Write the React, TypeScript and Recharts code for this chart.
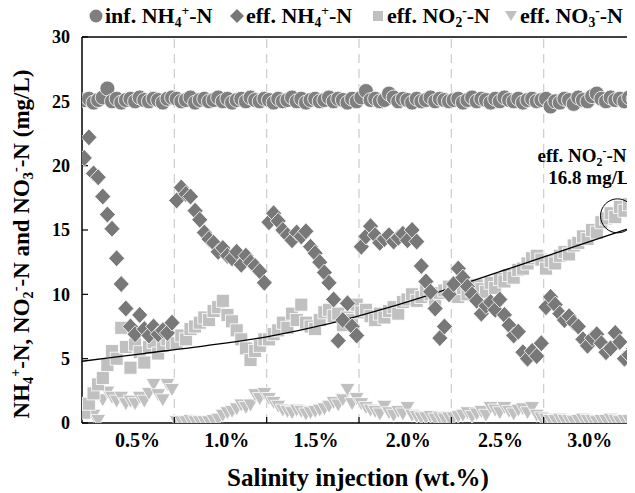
import React from 'react';
import { ScatterChart, Scatter, XAxis, YAxis, ReferenceLine, ReferenceDot } from 'recharts';

const FONT = '"Liberation Serif", "Times New Roman", serif';

// Salinity phases (sample-day units, 30 days per phase)
const phaseBoundaries = [30, 60, 90, 120, 150];
const xTickLabels = ['0.5%', '1.0%', '1.5%', '2.0%', '2.5%', '3.0%'];
const xTickPositions = [18, 47, 76, 106, 136, 165];
const yTicks = [0, 5, 10, 15, 20, 25, 30];
const sampleInterval = 1.5;

const infNH4 = [
  25.1, 25.2, 24.9, 25.1, 25.3, 26.0, 25.0, 25.2, 24.9, 25.1, 25.2, 25.0, 25.3, 25.1, 25.0, 25.2, 25.1, 24.9, 25.2, 25.3,
  25.2, 25.0, 25.1, 25.3, 24.9, 25.1, 25.2, 25.0, 25.1, 25.3, 25.0, 25.2, 24.9, 25.1, 25.2, 25.0, 25.3, 25.1, 25.0, 25.2,
  25.1, 24.9, 25.2, 25.0, 25.1, 25.3, 25.0, 25.2, 24.9, 25.1, 25.2, 25.0, 25.1, 25.3, 25.0, 25.2, 25.1, 24.9, 25.2, 25.0,
  25.3, 25.8, 25.1, 25.2, 25.0, 25.1, 25.6, 25.3, 25.0, 25.2, 25.1, 24.9, 25.2, 25.0, 25.1, 25.3, 25.0, 25.2, 25.1, 25.0,
  25.1, 25.2, 24.9, 25.1, 25.3, 25.0, 25.2, 25.1, 24.9, 25.2, 25.0, 25.3, 25.1, 25.0, 25.2, 24.9, 25.1, 25.2, 25.0, 25.1,
  25.2, 24.6, 25.0, 24.9, 25.2, 25.1, 24.8, 25.3, 25.1, 25.0, 25.4, 25.6, 25.2, 25.0, 25.3, 25.1, 25.2, 25.0, 25.3, 25.2,
];

const effNH4 = [
  20.6, 22.2, 19.4, 19.1, 17.6, 16.2, 15.1, 12.8, 10.8, 8.9, 7.5, 6.9, 8.4, 7.3, 6.8, 7.5, 6.9, 7.2, 7.0, 7.8,
  17.3, 18.3, 17.8, 17.6, 16.5, 15.8, 14.8, 14.3, 14.0, 13.3, 13.6, 13.0, 12.8, 13.3, 12.3, 13.0, 12.5, 12.2, 11.8, 10.9,
  15.6, 16.3, 15.7, 15.0, 14.6, 14.2, 14.8, 14.5, 14.9, 13.7, 13.2, 12.5, 11.7, 10.9, 9.6, 6.4, 8.0, 9.3, 7.5, 6.8,
  13.7, 14.5, 15.3, 14.6, 14.0, 14.3, 14.6, 14.1, 14.4, 14.7, 14.2, 15.0, 14.1, 12.2, 11.0, 10.2, 8.9, 6.6, 7.5, 10.0,
  10.8, 12.0, 11.3, 10.6, 10.0, 9.5, 8.5, 9.1, 9.4, 8.8, 9.6, 8.4, 7.6, 6.8, 7.1, 5.5, 5.0, 5.6, 5.2, 6.2,
  9.0, 9.8, 9.2, 8.5, 8.0, 8.3, 7.8, 7.5, 6.5, 6.0, 6.6, 6.9, 6.2, 5.5, 5.8, 7.0, 6.3, 5.0, 5.3, 5.8,
];

const effNO2 = [
  0.8, 1.5, 2.3, 3.0, 3.5, 4.5, 5.6, 5.0, 7.4, 5.9, 4.3, 6.1, 5.5, 4.7, 5.9, 6.3, 5.4, 6.0, 6.5, 6.2,
  6.2, 6.8, 6.5, 7.3, 7.5, 7.8, 8.2, 8.0, 8.7, 9.0, 9.5, 8.4, 7.9, 7.2, 6.5, 5.8, 4.9, 5.6, 6.0, 6.5,
  6.5, 6.9, 7.2, 7.8, 7.4, 8.5, 8.0, 9.2, 7.8, 7.5, 7.3, 8.0, 8.6, 8.8, 8.3, 8.5, 7.6, 8.2, 8.0, 9.2,
  8.6, 8.8, 8.3, 8.0, 8.5, 8.2, 8.7, 9.0, 8.5, 9.4, 9.6, 10.0, 9.5, 9.8, 10.3, 10.0, 9.6, 10.1, 10.3, 10.6,
  10.2, 9.8, 10.5, 10.0, 10.3, 10.7, 10.4, 10.2, 10.9, 10.5, 11.2, 11.0, 11.5, 11.3, 11.9, 12.0, 12.4, 12.8, 13.0, 12.7,
  12.0, 12.6, 12.4, 13.0, 13.3, 13.1, 13.8, 14.0, 14.5, 14.3, 15.0, 14.8, 15.6, 15.9, 16.3, 16.0, 16.8, 16.5, 17.0, 16.7,
];

const effNO3 = [
  1.0, 1.3, 0.6, 0.2, 1.8, 2.4, 2.0, 1.7, 2.0, 1.5, 1.7, 1.5, 2.0, 1.7, 2.3, 3.0, 2.2, 1.8, 3.0, 2.6,
  0.1, 0.1, 0.1, 0.2, 0.1, 0.1, 0.1, 0.1, 0.2, 0.3, 0.6, 0.8, 0.9, 1.1, 1.4, 1.2, 1.4, 2.2, 1.9, 2.3,
  1.9, 1.6, 1.3, 1.0, 0.9, 0.8, 1.0, 0.9, 0.7, 0.8, 0.9, 1.0, 1.1, 1.3, 1.6, 1.4, 1.8, 2.6, 1.5, 1.9,
  1.5, 1.2, 1.0, 0.9, 0.7, 1.3, 0.8, 0.6, 0.9, 0.7, 1.2, 0.6, 0.5, 0.4, 0.4, 0.5, 0.3, 0.4, 0.3, 0.4,
  0.4, 0.5, 0.6, 0.8, 0.5, 0.7, 0.9, 0.6, 1.2, 1.0, 0.8, 1.2, 0.9, 0.7, 1.0, 1.1, 0.8, 1.2, 0.6, 0.4,
  0.3, 0.2, 0.2, 0.3, 0.2, 0.2, 0.1, 0.2, 0.3, 0.2, 0.2, 0.1, 0.2, 0.2, 0.3, 0.2, 0.1, 0.2, 0.2, 0.3,
];

const trendDays = [0, 20, 40, 60, 80, 100, 120, 140, 160, 180];
const trendValues = [4.8, 5.4, 6.0, 6.7, 7.7, 9.0, 10.5, 12.1, 13.7, 15.3];

const highlightDay = 174;
const highlightValue = 16.1;

const toPoints = (values: number[]) =>
  values.map((v, i) => ({ x: (i + 0.5) * sampleInterval, y: v }));

const infData = toPoints(infNH4);
const effNH4Data = toPoints(effNH4);
const effNO2Data = toPoints(effNO2);
const effNO3Data = toPoints(effNO3);
const trendData = trendDays.map((d, i) => ({ x: d, y: trendValues[i] }));

const CircleShape = (p: any) => (
  <circle cx={p.cx} cy={p.cy} r={7.5} fill="#7f7f7f" stroke="#ffffff" strokeWidth={0.8} />
);
const DiamondShape = (p: any) => (
  <polygon
    points={`${p.cx},${p.cy - 8.5} ${p.cx + 8},${p.cy} ${p.cx},${p.cy + 8.5} ${p.cx - 8},${p.cy}`}
    fill="#787878"
    stroke="#ffffff"
    strokeWidth={0.8}
  />
);
const SquareShape = (p: any) => (
  <rect x={p.cx - 6.5} y={p.cy - 6.5} width={13} height={13} fill="#c0c0c0" stroke="#ffffff" strokeWidth={0.8} />
);
const TriangleShape = (p: any) => (
  <polygon
    points={`${p.cx - 7.5},${p.cy - 6} ${p.cx + 7.5},${p.cy - 6} ${p.cx},${p.cy + 7}`}
    fill="#c0c0c0"
    stroke="#ffffff"
    strokeWidth={0.8}
  />
);
const NoShape = () => <g />;

const XTick = (props: any) => {
  const { x, y, payload } = props;
  const v = payload.value;
  if (phaseBoundaries.indexOf(v) >= 0) {
    return <line x1={x} x2={x} y1={y} y2={y - 6} stroke="#000" strokeWidth={1.2} />;
  }
  const li = xTickPositions.indexOf(v);
  return (
    <text x={x} y={y + 24} textAnchor="middle" fontSize={20} fontWeight="bold" fontFamily={FONT} fill="#000">
      {xTickLabels[li]}
    </text>
  );
};

const subStyle: React.CSSProperties = { fontSize: '0.62em', verticalAlign: '-0.3em', lineHeight: 0 };
const supStyle: React.CSSProperties = { fontSize: '0.62em', verticalAlign: '0.6em', lineHeight: 0 };

const LegendIcon = ({ kind }: { kind: string }) => (
  <svg width={14} height={14} style={{ position: 'absolute', left: -16, top: 7 }}>
    {kind === 'circle' && <circle cx={7} cy={7} r={6.5} fill="#7f7f7f" />}
    {kind === 'diamond' && <polygon points="7,0 14,7 7,14 0,7" fill="#787878" />}
    {kind === 'square' && <rect x={2} y={2} width={10} height={10} fill="#c0c0c0" />}
    {kind === 'triangle' && <polygon points="1,2 13,2 7,12" fill="#c0c0c0" />}
  </svg>
);

const legendItems = [
  { kind: 'circle', left: 97, pre: 'inf. NH', sub: '4', sup: '+', post: '-N' },
  { kind: 'diamond', left: 238, pre: 'eff. NH', sub: '4', sup: '+', post: '-N' },
  { kind: 'square', left: 379, pre: 'eff. NO', sub: '2', sup: '-', post: '-N' },
  { kind: 'triangle', left: 512, pre: 'eff. NO', sub: '3', sup: '-', post: '-N' },
];

export default function App() {
  const ticksX = [...xTickPositions, ...phaseBoundaries].sort((a, b) => a - b);
  return (
    <div style={{ position: 'relative', width: 627, height: 485, fontFamily: FONT, color: '#000' }}>
      <div style={{ position: 'absolute', left: 0, top: 0, width: 627, height: 485, overflow: 'hidden' }}>
        <ScatterChart width={640} height={485} margin={{ top: 29, right: 12, bottom: 40, left: 0 }}>
          <XAxis
            type="number"
            dataKey="x"
            domain={[0, 180]}
            ticks={ticksX}
            interval={0}
            tickLine={false}
            tickSize={0}
            tickMargin={0}
            tick={<XTick />}
            height={30}
            axisLine={{ stroke: '#000', strokeWidth: 1.5 }}
            allowDataOverflow
          />
          <YAxis
            type="number"
            dataKey="y"
            domain={[0, 30]}
            ticks={yTicks}
            interval={0}
            width={74}
            tickSize={-6}
            tickMargin={18}
            tickLine={{ stroke: '#000', strokeWidth: 1.2 }}
            axisLine={{ stroke: '#000', strokeWidth: 1.5 }}
            tick={{ fill: '#000', fontSize: 18, fontWeight: 'bold', fontFamily: FONT }}
            allowDataOverflow
          />
          <YAxis
            yAxisId="right"
            orientation="right"
            type="number"
            domain={[0, 30]}
            ticks={yTicks}
            width={0}
            mirror
            tick={false}
            tickSize={6}
            tickLine={{ stroke: '#000', strokeWidth: 1.2 }}
            axisLine={{ stroke: '#000', strokeWidth: 1.5 }}
          />
          {phaseBoundaries.map((b) => (
            <ReferenceLine key={b} x={b} stroke="#cccccc" strokeWidth={1.2} strokeDasharray="9 6" />
          ))}
          <ReferenceLine y={30} stroke="#000" strokeWidth={1.5} />
          <Scatter data={effNO3Data} shape={TriangleShape} isAnimationActive={false} />
          <Scatter data={effNO2Data} shape={SquareShape} isAnimationActive={false} />
          <Scatter
            data={trendData}
            shape={NoShape}
            line={{ stroke: '#000', strokeWidth: 1.3 }}
            lineJointType="monotoneX"
            isAnimationActive={false}
          />
          <Scatter data={effNH4Data} shape={DiamondShape} isAnimationActive={false} />
          <Scatter data={infData} shape={CircleShape} isAnimationActive={false} />
          <ReferenceDot x={highlightDay} y={highlightValue} r={17} fill="none" stroke="#000" strokeWidth={1} />
        </ScatterChart>
      </div>

      {legendItems.map((it, i) => (
        <div
          key={i}
          style={{
            position: 'absolute',
            left: it.left,
            top: -6,
            fontSize: 22,
            fontWeight: 'bold',
            lineHeight: '28px',
            whiteSpace: 'nowrap',
          }}
        >
          <LegendIcon kind={it.kind} />
          {it.pre}
          <span style={subStyle}>{it.sub}</span>
          <span style={supStyle}>{it.sup}</span>
          {it.post}
        </div>
      ))}

      <div
        style={{
          position: 'absolute',
          left: 14 - 250,
          top: 236 - 14,
          width: 500,
          height: 28,
          lineHeight: '28px',
          textAlign: 'center',
          transform: 'rotate(-90deg)',
          fontSize: 23,
          fontWeight: 'bold',
          whiteSpace: 'nowrap',
        }}
      >
        NH<span style={subStyle}>4</span>
        <span style={supStyle}>+</span>-N, NO<span style={subStyle}>2</span>
        <span style={supStyle}>-</span>-N and NO<span style={subStyle}>3</span>
        <span style={supStyle}>-</span>-N (mg/L)
      </div>

      <div
        style={{
          position: 'absolute',
          left: 350 - 200,
          top: 470 - 12,
          width: 400,
          height: 24,
          lineHeight: '24px',
          textAlign: 'center',
          fontSize: 25,
          fontWeight: 'bold',
        }}
      >
        Salinity injection (wt.%)
      </div>

      <div
        style={{
          position: 'absolute',
          left: 574 - 80,
          top: 148 - 9,
          width: 160,
          height: 18,
          textAlign: 'center',
          fontSize: 19,
          fontWeight: 'bold',
          lineHeight: '18px',
          whiteSpace: 'nowrap',
        }}
      >
        eff. NO<span style={subStyle}>2</span>
        <span style={supStyle}>-</span>-N
      </div>
      <div
        style={{
          position: 'absolute',
          left: 581 - 80,
          top: 170 - 9,
          width: 160,
          height: 18,
          textAlign: 'center',
          fontSize: 19,
          fontWeight: 'bold',
          lineHeight: '18px',
          whiteSpace: 'nowrap',
        }}
      >
        16.8 mg/L
      </div>
    </div>
  );
}
